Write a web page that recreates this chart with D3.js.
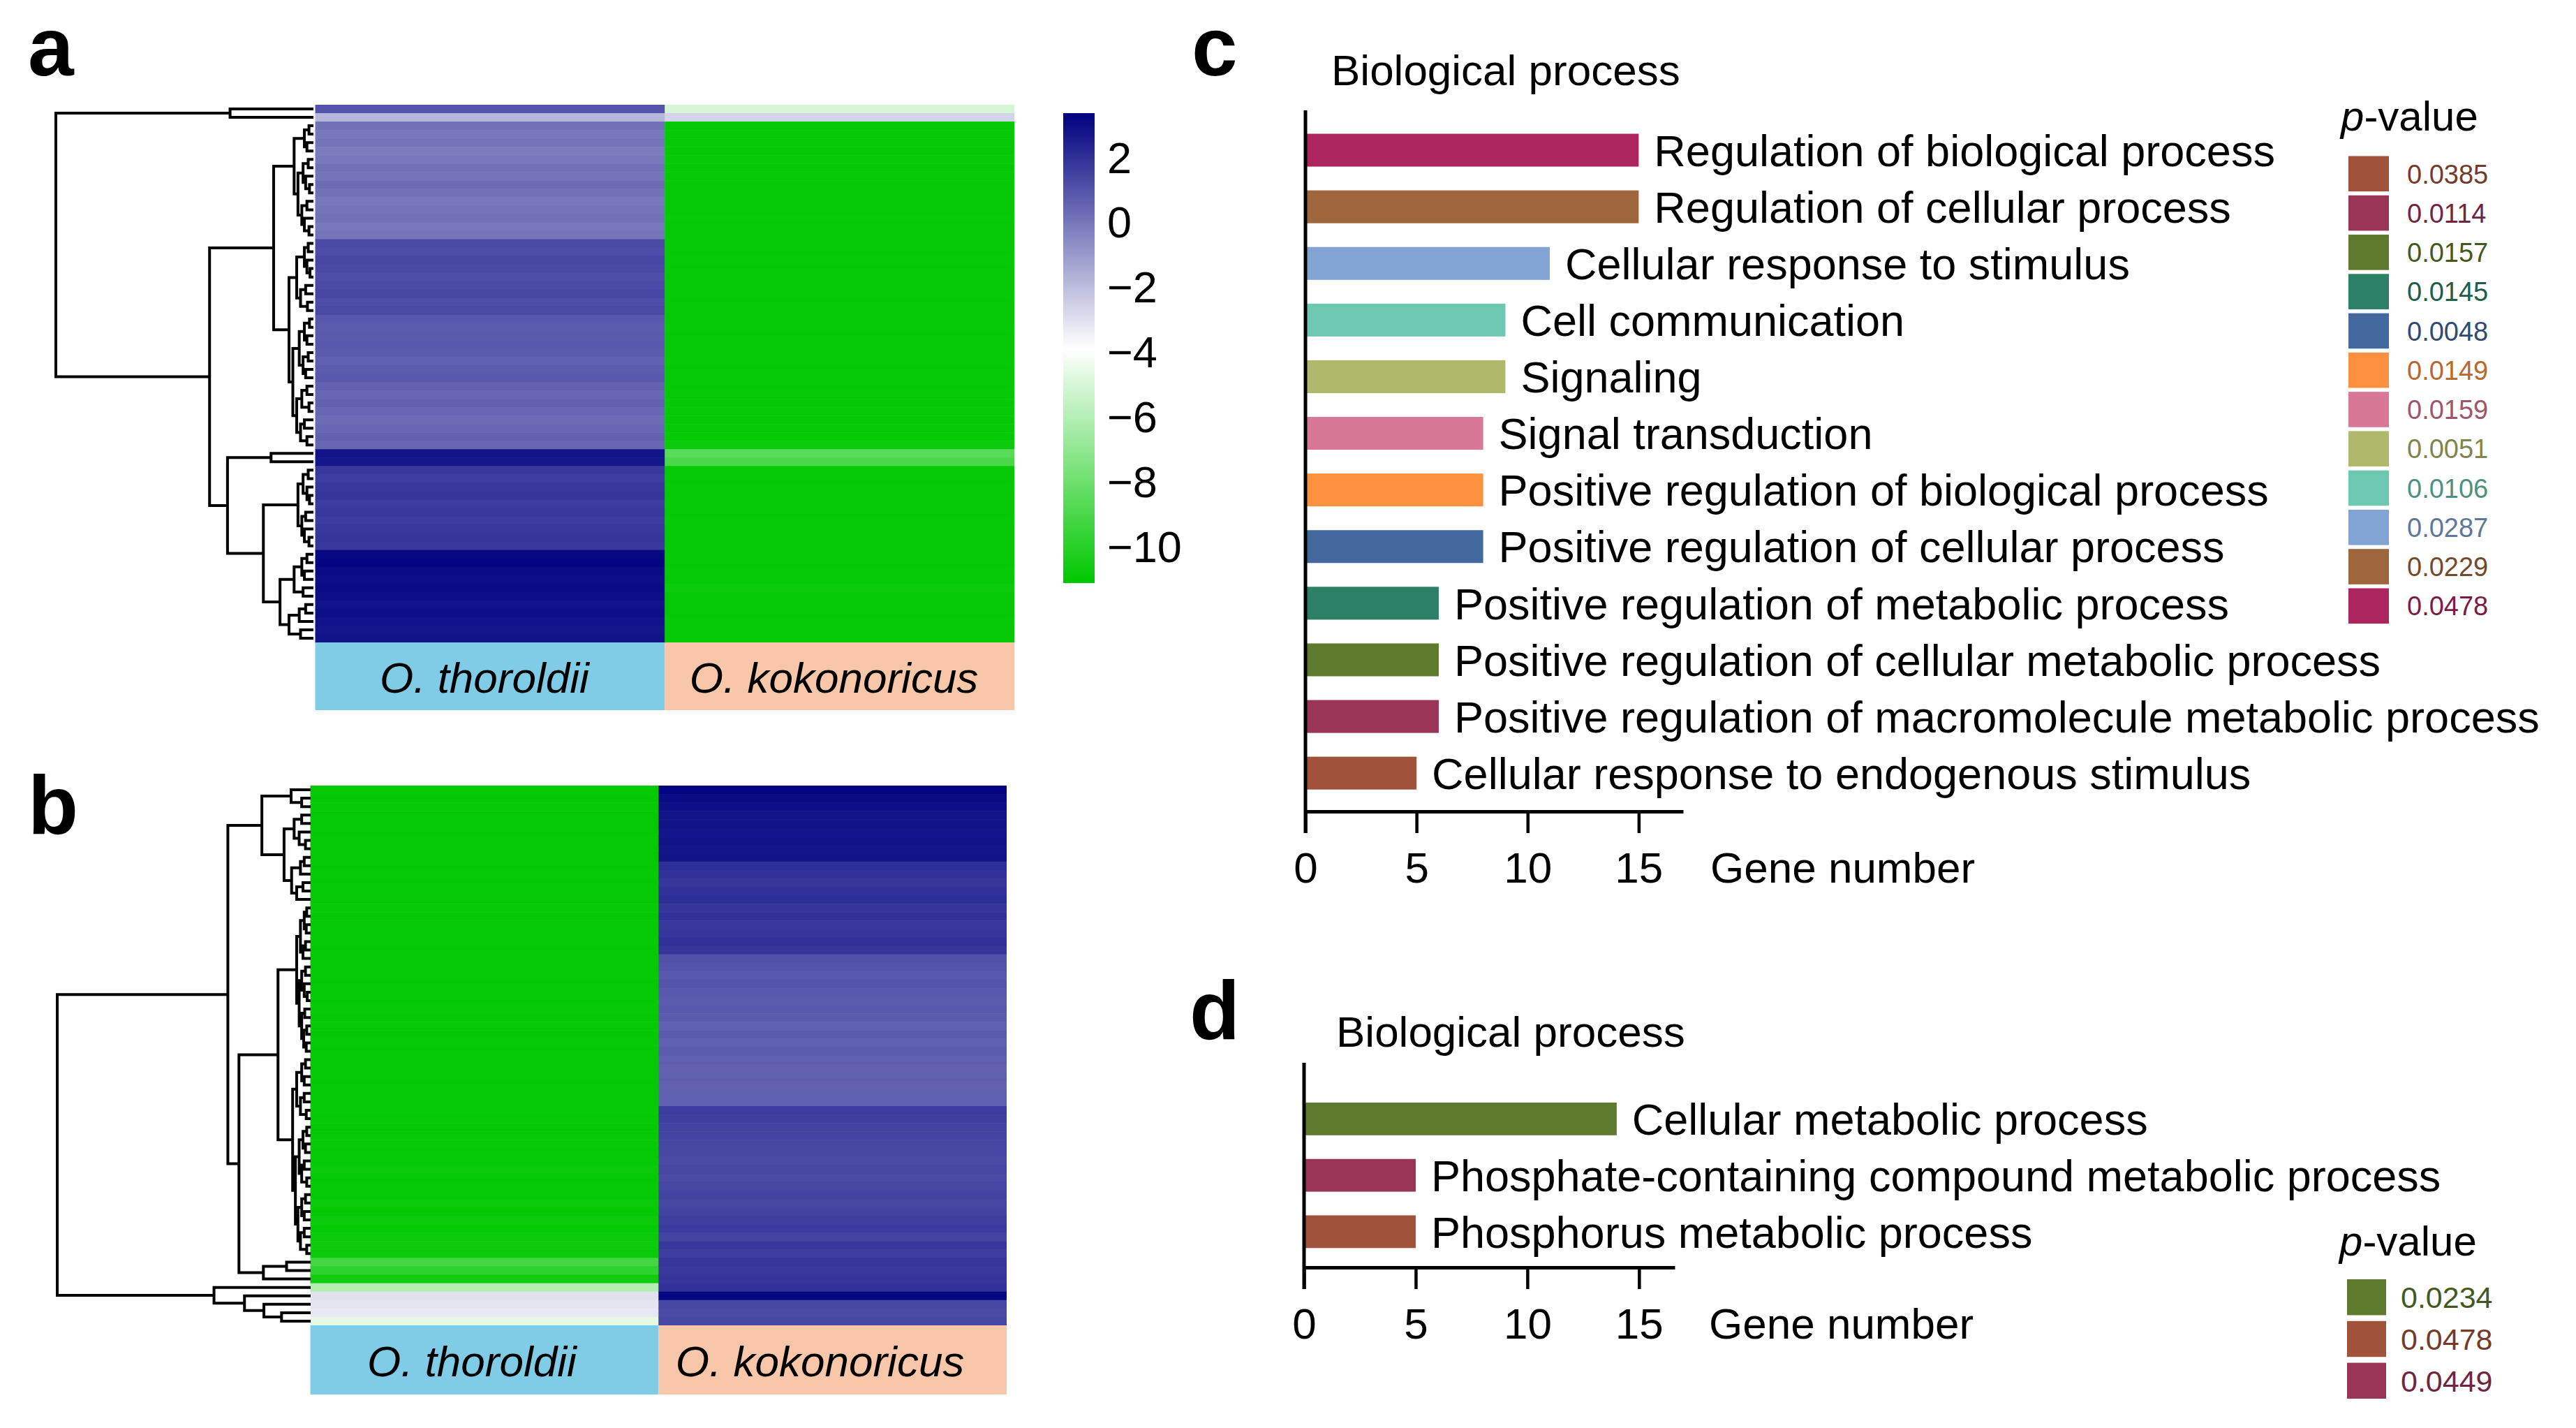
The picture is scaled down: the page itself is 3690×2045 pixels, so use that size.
<!DOCTYPE html>
<html>
<head>
<meta charset="utf-8">
<script src="https://cdnjs.cloudflare.com/ajax/libs/d3/7.8.5/d3.min.js"></script>
<style>
  body { margin: 0; background: #fff; }
  svg text { font-family: "Liberation Sans", Arial, sans-serif; }
</style>
</head>
<body>
<div id="content"></div>
<script>
// ---------------- data ----------------
const species = ["O. thoroldii", "O. kokonoricus"];

// panel a, one value per gene row (top to bottom)
const aThoroldii = [1.0, -1.8,
  0.2, 0.0, 0.1, -0.1, 0.0, 0.2, 0.1, 0.3, 0.2, 0.0, 0.1, 0.2, 0.0, 0.1,
  1.3, 1.2, 1.4, 1.3, 1.2, 1.3, 1.4, 1.2, 1.3,
  0.9, 0.8, 0.85, 0.9, 0.8, 0.7, 0.8, 0.9,
  0.6, 0.5, 0.6, 0.5, 0.4, 0.5, 0.6, 0.5,
  2.9, 2.8,
  1.8, 1.7, 1.8, 1.9, 1.7, 1.8, 1.7, 1.8, 1.9, 1.8,
  3.2, 3.3, 3.1, 3.0, 3.1, 3.0, 2.9, 3.0, 2.9, 2.8, 2.9];
const aKokonoricus = [-5.0, -2.6,
  -11.0, -10.9, -11.0, -11.0, -10.9, -11.0, -11.0, -10.9, -11.0, -11.0, -11.0, -10.9, -11.0, -11.0,
  -11.0, -11.0, -10.9, -11.0, -11.0, -11.0, -10.9, -11.0, -11.0,
  -11.0, -10.9, -11.0, -11.0, -11.0, -10.9, -11.0, -11.0,
  -11.0, -11.0, -10.9, -11.0, -11.0, -11.0, -10.9, -10.8,
  -8.6, -9.0,
  -11.0, -11.0, -10.9, -11.0, -11.0, -11.0, -10.9, -11.0, -11.0, -11.0,
  -11.0, -11.0, -10.9, -11.0, -10.8, -11.0, -11.0, -11.0, -10.9, -11.0, -11.0];
// dendrogram: [height, child, child], leaves are row indices
const aTree = [10,
  [3.2, 0, 1],
  [4.0,
    [1.5,
      [0.7,
        [0.3, [0.12, 2, 3], [0.2, 4, 5]],
        [0.55, [0.35, [0.15, 6, 7], [0.25, 8, [0.1, 9, 10]]], [0.4, [0.2, 11, 12], [0.3, 13, [0.12, 14, 15]]]]],
      [0.9,
        [0.6, [0.3, [0.15, 16, 17], [0.2, 18, [0.08, 19, 20]]], [0.45, [0.25, 21, 22], [0.18, 23, 24]]],
        [0.75, [0.5, [0.3, [0.1, 25, 26], [0.2, 27, 28]], [0.35, [0.15, 29, 30], [0.25, 31, 32]]],
               [0.6, [0.4, [0.2, 33, 34], [0.12, 35, 36]], [0.45, [0.3, 37, 38], [0.2, 39, 40]]]]]],
    [3.3,
      [1.6, 41, 42],
      [1.9,
        [0.55, [0.35, [0.15, 43, 44], [0.2, 45, [0.1, 46, 47]]], [0.4, [0.25, 48, 49], [0.3, 50, [0.12, 51, 52]]]],
        [1.25, [0.7, [0.4, [0.2, 53, 54], [0.3, 55, 56]], [0.35, 57, 58]], [0.9, [0.5, [0.25, 59, 60], 61], [0.45, 62, 63]]]]]]];

// panel b
const bThoroldii = [
  -11.0, -11.0, -10.9, -11.0, -11.0, -11.0, -10.9, -11.0, -11.0,
  -11.0, -10.9, -11.0, -11.0, -11.0, -10.9, -11.0, -11.0, -11.0, -10.9, -11.0,
  -11.0, -11.0, -10.9, -11.0, -11.0, -11.0, -10.9, -11.0, -11.0, -11.0, -10.9, -11.0, -11.0, -11.0, -10.9, -11.0, -11.0, -11.0,
  -10.9, -11.0, -11.0, -11.0, -10.9, -11.0, -11.0, -10.8, -11.0, -10.9, -11.0, -10.8, -11.0,
  -10.8, -10.9, -10.8, -10.7, -10.8,
  -9.2, -9.8, -10.6,
  -6.0, -3.0, -3.1, -3.2, -4.6];
const bKokonoricus = [
  3.3, 3.1, 3.0, 2.9, 2.9, 2.8, 2.9, 2.8, 2.9,
  2.1, 2.0, 1.9, 2.0, 2.1, 1.9, 2.0, 1.8, 1.9, 2.0, 1.9,
  1.1, 1.0, 0.9, 1.0, 0.9, 0.8, 0.9, 0.8, 0.7, 0.8, 0.7, 0.8, 0.7, 0.6, 0.7, 0.6, 0.7, 0.7,
  1.7, 1.6, 1.5, 1.5, 1.4, 1.4, 1.3, 1.4, 1.3, 1.4, 1.5, 1.4, 1.5,
  1.6, 1.7, 1.5, 1.8, 1.7, 1.9, 1.8, 1.9, 2.0,
  3.2, 1.4, 1.3, 1.4];
const bTree = [10,
  [3.23,
    [1.88,
      [0.72, 0, [0.3, 1, 2]],
      [1.0, [0.6, [0.3, 3, 4], [0.4, 5, [0.15, 6, 7]]], [0.7, [0.35, [0.2, 8, 9], 10], [0.5, [0.25, 11, 12], 13]]]],
    [2.79,
      [1.24,
        [0.5, [0.35, [0.2, [0.1, 14, 15], [0.12, 16, 17]], [0.25, [0.15, 18, 19], 20]],
              [0.4, [0.3, [0.15, 21, 22], [0.2, 23, [0.08, 24, 25]]], [0.3, [0.18, 26, 27], [0.22, [0.1, 28, 29], [0.12, 30, 31]]]]],
        [0.66, [0.5, [0.3, [0.15, 32, 33], [0.2, 34, 35]], [0.35, [0.2, 36, 37], [0.12, 38, 39]]],
               [0.55, [0.4, [0.25, [0.1, 40, 41], [0.15, 42, 43]], [0.3, [0.2, 44, 45], [0.1, 46, 47]]],
                      [0.45, [0.3, [0.15, 48, 49], [0.2, 50, 51]], [0.35, [0.2, 52, 53], [0.1, 54, 55]]]]]],
      [1.82, [0.9, 56, 57], 58]]],
  [3.78, 59, [2.57, 60, [1.8, 61, [1.1, 62, 63]]]]];

const colorTicks = [2, 0, -2, -4, -6, -8, -10];

// panel c
const cTerms = ["Regulation of biological process", "Regulation of cellular process",
  "Cellular response to stimulus", "Cell communication", "Signaling", "Signal transduction",
  "Positive regulation of biological process", "Positive regulation of cellular process",
  "Positive regulation of metabolic process", "Positive regulation of cellular metabolic process",
  "Positive regulation of macromolecule metabolic process", "Cellular response to endogenous stimulus"];
const cGenes = [15, 15, 11, 9, 9, 8, 8, 8, 6, 6, 6, 5];
const cPvalues = ["0.0478", "0.0229", "0.0287", "0.0106", "0.0051", "0.0159",
  "0.0149", "0.0048", "0.0145", "0.0157", "0.0114", "0.0385"];
const cColors = ["#ad255e", "#9f663d", "#82a4d4", "#6dc8b2", "#b0b86c", "#d87896",
  "#fd9140", "#42689e", "#2c8068", "#5e7a2c", "#9b3558", "#a0523a"];
const cLegend = ["0.0385", "0.0114", "0.0157", "0.0145", "0.0048", "0.0149",
  "0.0159", "0.0051", "0.0106", "0.0287", "0.0229", "0.0478"];

// panel d
const dTerms = ["Cellular metabolic process", "Phosphate-containing compound metabolic process",
  "Phosphorus metabolic process"];
const dGenes = [14, 5, 5];
const dPvalues = ["0.0234", "0.0449", "0.0478"];
const dColors = ["#5e7a2c", "#9b3558", "#a0523a"];
const dLegend = ["0.0234", "0.0478", "0.0449"];

const geneTicks = [0, 5, 10, 15];

// ---------------- drawing ----------------
const W = 3690, H = 2045;
const svg = d3.select("#content").append("svg")
  .attr("width", W).attr("height", H).style("display", "block");
svg.append("rect").attr("width", W).attr("height", H).attr("fill", "#fff");

const heat = d3.scaleLinear()
  .domain([-11.1, -3.85, 3.4])
  .range(["#00c800", "#ffffff", "#000080"]);

const speciesFill = ["#80cce6", "#f8c6a8"];

function heatmap(cols, tree, box) {
  const g = svg.append("g");
  const n = cols[0].length;
  const x = d3.scaleBand().domain(species).range([box.left, box.right]);
  const y = d3.scaleBand().domain(d3.range(n)).range([box.top, box.bottom]);

  cols.forEach((vals, j) => {
    g.append("g").selectAll("rect").data(vals).join("rect")
      .attr("x", x(species[j]))
      .attr("y", (d, i) => y(i))
      .attr("width", x.bandwidth() + (j == 0 ? 0.5 : 0))
      .attr("height", y.bandwidth() + 0.6)
      .attr("fill", d => heat(d));
  });

  const lab = g.append("g").selectAll("g").data(species).join("g");
  lab.append("rect")
    .attr("x", d => x(d)).attr("y", box.bottom)
    .attr("width", x.bandwidth()).attr("height", box.label)
    .attr("fill", (d, i) => speciesFill[i]);
  lab.append("text")
    .attr("x", d => x(d) + x.bandwidth() / 2 + box.labelShift)
    .attr("y", box.bottom + box.label / 2)
    .attr("dy", "0.38em")
    .attr("text-anchor", "middle")
    .attr("font-size", 62)
    .attr("font-style", "italic")
    .text(d => d);

  // dendrogram
  const hx = d3.scaleLinear().domain([0, 10]).range([box.leafX, box.rootX]);
  const p = d3.path();
  function walk(node) {
    if (typeof node === "number") return { x: hx(0), y: y(node) + y.bandwidth() / 2 };
    const kids = node.slice(1).map(walk);
    const nx = hx(node[0]);
    const ys = kids.map(k => k.y);
    p.moveTo(nx, d3.min(ys)); p.lineTo(nx, d3.max(ys));
    kids.forEach(k => { p.moveTo(nx, k.y); p.lineTo(k.x, k.y); });
    return { x: nx, y: (d3.min(ys) + d3.max(ys)) / 2 };
  }
  walk(tree);
  g.append("path").attr("d", p.toString())
    .attr("fill", "none").attr("stroke", "#000")
    .attr("stroke-width", 4).attr("stroke-linecap", "square");
}

heatmap([aThoroldii, aKokonoricus], aTree,
  { left: 451.5, right: 1453, top: 150, bottom: 920, label: 97, labelShift: -8, leafX: 447, rootX: 80 });
heatmap([bThoroldii, bKokonoricus], bTree,
  { left: 444.5, right: 1442, top: 1125, bottom: 1898, label: 99, labelShift: -18, leafX: 443, rootX: 82 });

// colour bar
const cbY = d3.scaleLinear().domain([-11.1, 3.4]).range([835, 162]);
const grad = svg.append("defs").append("linearGradient")
  .attr("id", "cbar").attr("x1", 0).attr("x2", 0).attr("y1", 1).attr("y2", 0);
grad.selectAll("stop").data(heat.domain()).join("stop")
  .attr("offset", d => (d - (-11.1)) / (3.4 - (-11.1)))
  .attr("stop-color", d => heat(d));
svg.append("rect")
  .attr("x", 1523).attr("y", cbY(3.4))
  .attr("width", 45).attr("height", cbY(-11.1) - cbY(3.4))
  .attr("fill", "url(#cbar)");
const cbAxis = svg.append("g")
  .attr("transform", "translate(1568,0)")
  .call(d3.axisRight(cbY).tickValues(colorTicks).tickSize(0).tickPadding(18));
cbAxis.select(".domain").remove();
cbAxis.selectAll("text")
  .attr("font-size", 63).attr("fill", "#000")
  .style("font-family", "'Liberation Sans', Arial, sans-serif");

// bar panels
function barPanel(terms, genes, colors, box) {
  const g = svg.append("g");
  const x = d3.scaleLinear().domain([0, box.xMax]).range([box.x0, box.x1]);
  const y = d3.scaleBand().domain(terms).range([box.yTop, box.yBottom])
    .paddingInner(0.42).paddingOuter(0.21);

  g.append("text").attr("x", box.headX).attr("y", box.headY)
    .attr("font-size", 62).text("Biological process");

  g.selectAll("rect").data(terms).join("rect")
    .attr("x", x(0)).attr("y", d => y(d))
    .attr("width", (d, i) => x(genes[i]) - x(0))
    .attr("height", y.bandwidth())
    .attr("fill", (d, i) => colors[i]);

  g.selectAll("text.term").data(terms).join("text")
    .attr("class", "term")
    .attr("x", (d, i) => x(genes[i]) + 22)
    .attr("y", d => y(d) + y.bandwidth() / 2)
    .attr("dy", "0.36em")
    .attr("font-size", 63)
    .text(d => d);

  const ax = g.append("g")
    .attr("transform", `translate(0,${box.axisY})`)
    .call(d3.axisBottom(x).tickValues(geneTicks).tickSize(31).tickSizeOuter(0).tickPadding(27));
  ax.select(".domain").attr("stroke", "#000").attr("stroke-width", 5);
  ax.selectAll(".tick line").attr("stroke", "#000").attr("stroke-width", 4.5);
  ax.selectAll(".tick text")
    .attr("font-size", 62).attr("fill", "#000")
    .style("font-family", "'Liberation Sans', Arial, sans-serif");

  g.append("line")
    .attr("x1", x(0)).attr("x2", x(0))
    .attr("y1", box.axisTop).attr("y2", box.axisY + 31)
    .attr("stroke", "#000").attr("stroke-width", 5);

  g.append("text")
    .attr("x", x(0) + 580).attr("y", box.axisY + 102)
    .attr("font-size", 62).text("Gene number");
}

barPanel(cTerms, cGenes, cColors,
  { x0: 1870, x1: 2411, xMax: 17, yTop: 174.5, yBottom: 1147.7, axisY: 1162, axisTop: 158, headX: 1907, headY: 122 });
barPanel(dTerms, dGenes, dColors,
  { x0: 1868, x1: 2399, xMax: 16.6, yTop: 1562, yBottom: 1804.25, axisY: 1815, axisTop: 1522, headX: 1914, headY: 1499 });

// p-value legends
function legend(items, pvals, colors, box) {
  const g = svg.append("g");
  const colorOf = p => colors[pvals.indexOf(p)];
  const t = g.append("text").attr("x", box.x - 11).attr("y", box.titleY).attr("font-size", 60);
  t.append("tspan").attr("font-style", "italic").text("p");
  t.append("tspan").text("-value");
  const y = d3.scaleBand().domain(items).range([box.top, box.top + box.step * items.length]).paddingInner(box.gap);
  g.selectAll("rect").data(items).join("rect")
    .attr("x", box.x).attr("y", d => y(d))
    .attr("width", box.w).attr("height", y.bandwidth())
    .attr("fill", colorOf);
  g.selectAll("text.pv").data(items).join("text")
    .attr("class", "pv")
    .attr("x", box.textX).attr("y", d => y(d) + y.bandwidth() / 2)
    .attr("dy", "0.36em").attr("font-size", box.font)
    .attr("fill", d => d3.color(colorOf(d)).darker(0.9))
    .text(d => d);
}

legend(cLegend, cPvalues, cColors,
  { x: 3364, w: 58, top: 223.5, step: 55.8, gap: 0.1, textX: 3448, font: 38, titleY: 187 });
legend(dLegend, dPvalues, dColors,
  { x: 3362, w: 56, top: 1832, step: 57, gap: 0.14, textX: 3439, font: 43, titleY: 1798 });

// panel letters
const letters = [["a", 40, 108], ["b", 40, 1194], ["c", 1707, 108], ["d", 1704, 1488]];
svg.selectAll("text.letter").data(letters).join("text")
  .attr("class", "letter")
  .attr("x", d => d[1]).attr("y", d => d[2])
  .attr("font-size", 118).attr("font-weight", "bold")
  .text(d => d[0]);
</script>
</body>
</html>
